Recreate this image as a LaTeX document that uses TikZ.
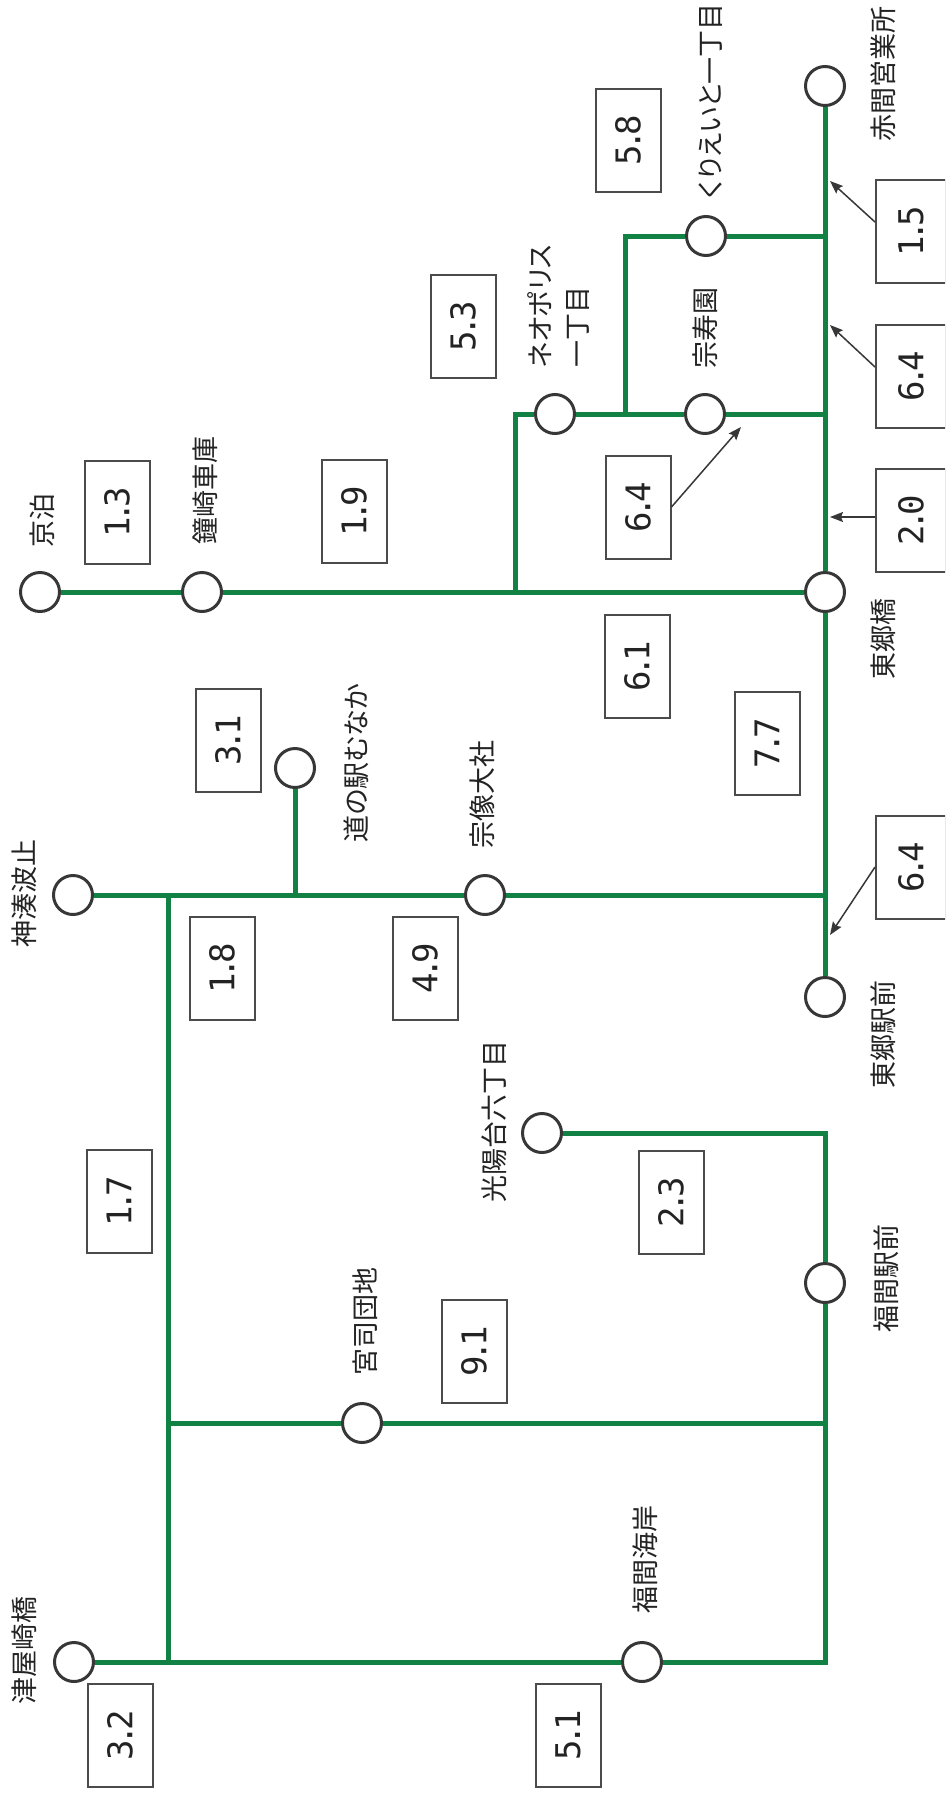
\documentclass[tikz,border=0pt]{standalone}
\usepackage{fontspec}
\newfontfamily\jp[RawFeature=+palt]{Noto Sans CJK JP}
\newfontfamily\numf[LetterSpace=-16]{DejaVu Sans Mono}
\usetikzlibrary{arrows.meta,calc}
\definecolor{rg}{RGB}{18,130,68}
\definecolor{cg}{RGB}{55,55,55}
\definecolor{bg}{RGB}{75,75,75}
\definecolor{tg}{RGB}{35,35,35}
\begin{document}
\begin{tikzpicture}[x=1pt,y=-1pt,
  st/.style={circle,draw=cg,line width=3pt,fill=white,minimum size=39pt,inner sep=0},
  lbl/.style={rotate=90,inner sep=0,text=tg,font=\jp\fontsize{27}{43}\selectfont},
  bx/.style={rotate=90,draw=bg,line width=2pt,fill=white,minimum width=103pt,minimum height=65pt,inner sep=0,text=tg,font=\numf\fontsize{34}{40}\selectfont},
  bxr/.style={bx,minimum height=70pt},
  rl/.style={draw=rg,line width=5pt},
  arr/.style={draw=cg,line width=1.5pt,-{Stealth[length=13pt,width=10pt,inset=2pt]}}]
\useasboundingbox (0,0) rectangle (945,1793);
\clip (0,0) rectangle (945,1793);
\fill[white] (0,0) rectangle (945,1793);

% stations
\node[st] (akama) at (825,86) {};
\node[st] (kuri) at (706,236) {};
\node[st] (neo) at (555,414) {};
\node[st] (souju) at (705,414) {};
\node[st] (kyo) at (40,592) {};
\node[st] (kane) at (202,592) {};
\node[st] (togo) at (825,592) {};
\node[st] (michi) at (295,768) {};
\node[st] (kono) at (73,895) {};
\node[st] (muna) at (485,895) {};
\node[st] (togoeki) at (825,997) {};
\node[st] (koyo) at (542,1133) {};
\node[st] (fukueki) at (825,1283) {};
\node[st] (miya) at (362,1423) {};
\node[st] (fkai) at (642,1662) {};
\node[st] (tsuya) at (74,1662) {};

% junctions
\coordinate (j1) at (515,592);
\coordinate (j1t) at (515,414);
\coordinate (j2) at (625,414);
\coordinate (j2t) at (625,236);
\coordinate (m236) at (825,236);
\coordinate (m414) at (825,414);
\coordinate (m895) at (825,895);
\coordinate (k895) at (168,895);
\coordinate (mi895) at (295,895);
\coordinate (k1423) at (168,1423);
\coordinate (m1423) at (825,1423);
\coordinate (k1662) at (168,1662);
\coordinate (c1662) at (825,1662);
\coordinate (c1133) at (825,1133);

% lines
\draw[rl] (akama) -- (togo);
\draw[rl] (togo) -- (togoeki);
\draw[rl] (kyo) -- (kane);
\draw[rl] (kane) -- (togo);
\draw[rl] (j1) -- (j1t) -- (neo);
\draw[rl] (neo) -- (souju);
\draw[rl] (souju) -- (m414);
\draw[rl] (j2) -- (j2t) -- (kuri);
\draw[rl] (kuri) -- (m236);
\draw[rl] (kono) -- (muna);
\draw[rl] (muna) -- (m895);
\draw[rl] (mi895) -- (michi);
\draw[rl] (k895) -- (k1662);
\draw[rl] (k1423) -- (miya);
\draw[rl] (miya) -- (m1423);
\draw[rl] (tsuya) -- (fkai);
\draw[rl] (fkai) -- (c1662) -- (fukueki);
\draw[rl] (fukueki) -- (c1133) -- (koyo);

% labels
\node[lbl] (lakama) at (883,74) {赤間営業所};
\node[lbl] (lkuri) at (711,101) {くりえいと一丁目};
\node[lbl,anchor=west] (lneo1) at (540,368) {ネオポリス};
\node[lbl,anchor=west] (lneo2) at (578,368) {一丁目};
\node[lbl] (lsouju) at (705,328) {宗寿園};
\node[lbl] (lkyo) at (42,520) {京泊};
\node[lbl] (lkane) at (205,490) {鐘崎車庫};
\node[lbl] (ltogo) at (883,639) {東郷橋};
\node[lbl] (lmichi) at (356,763) {道の駅むなか};
\node[lbl] (lmuna) at (482,794) {宗像大社};
\node[lbl] (lkono) at (24,893) {神湊波止};
\node[lbl] (ltogoeki) at (883,1034) {東郷駅前};
\node[lbl] (lkoyo) at (494,1121) {光陽台六丁目};
\node[lbl] (lfukueki) at (886,1278) {福間駅前};
\node[lbl] (lmiya) at (365,1321) {宮司団地};
\node[lbl] (lfkai) at (645,1559) {福間海岸};
\node[lbl] (ltsuya) at (24,1650) {津屋崎橋};

% boxes
\node[bx] (b58) at (628,140) {5.8};
\node[bx] (b53) at (463,326) {5.3};
\node[bxr] (b15) at (911,231) {1.5};
\node[bxr] (b64a) at (911,376) {6.4};
\node[bx] (b13) at (117,512) {1.3};
\node[bx] (b19) at (354,511) {1.9};
\node[bx] (b64b) at (638,507) {6.4};
\node[bxr] (b20) at (911,520) {2.0};
\node[bx] (b61) at (637,666) {6.1};
\node[bx] (b77) at (767,743) {7.7};
\node[bx] (b31) at (228,740) {3.1};
\node[bxr] (b64c) at (911,867) {6.4};
\node[bx] (b18) at (222,968) {1.8};
\node[bx] (b49) at (425,968) {4.9};
\node[bx] (b17) at (119,1201) {1.7};
\node[bx] (b23) at (671,1202) {2.3};
\node[bx] (b91) at (474,1351) {9.1};
\node[bx] (b32) at (120,1735) {3.2};
\node[bx] (b51) at (568,1735) {5.1};

% arrows
\coordinate (t15) at (830,181);
\coordinate (t64a) at (830,325);
\coordinate (t20) at (830,517);
\coordinate (t64b) at (741,427);
\coordinate (t64c) at (830,935);
\draw[arr] ([yshift=9pt]b15.north) -- (t15);
\draw[arr] ([yshift=9pt]b64a.north) -- (t64a);
\draw[arr] ([yshift=3pt]b20.north) -- (t20);
\draw[arr] (b64b.south) -- (t64b);
\draw[arr] (b64c.north) -- (t64c);
\end{tikzpicture}
\end{document}
